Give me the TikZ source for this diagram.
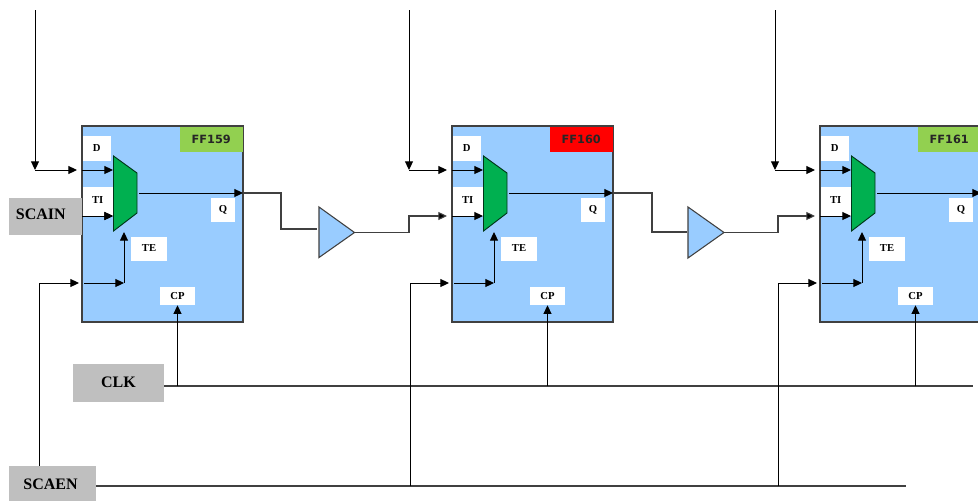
\documentclass[tikz,border=0pt]{standalone}
\usepackage{fontspec}
\setmainfont{Liberation Serif}
\newfontfamily\tagfont{DejaVu Sans}
\usetikzlibrary{arrows.meta,calc}
\definecolor{ffblue}{HTML}{99CCFF}
\definecolor{muxgreen}{HTML}{00B050}
\definecolor{taggreen}{HTML}{92D050}
\definecolor{sigegray}{HTML}{BFBFBF}
\definecolor{wiregray}{HTML}{404040}
\tikzset{
  wire/.style={line width=.75pt,black},
  bus/.style={line width=.8pt,wiregray},
  arr/.style={-{Triangle[length=6.5pt,width=6pt,fill=black]}},
  ffbox/.style={draw=wiregray,line width=1pt,fill=ffblue},
  pinlabel/.style={fill=white,font=\bfseries\fontsize{8}{9}\selectfont,inner sep=0pt},
  taglabel/.style={font=\tagfont\bfseries\fontsize{8.5}{10}\selectfont,inner sep=0pt,text=black!85},
  siglabel/.style={fill=sigegray,font=\bfseries\fontsize{12}{14}\selectfont,inner sep=0pt},
  mux/.style={draw=black!70!muxgreen,line width=.7pt,fill=muxgreen},
  buf/.style={draw=wiregray,line width=.8pt,fill=ffblue},
}
% name, x1, y1, x2, y2, style, text
\newcommand{\pxnode}[7]{%
  \pgfmathsetmacro{\pxw}{(#4-#2)*.75}\pgfmathsetmacro{\pxh}{(#5-#3)*.75}%
  \node[#6,minimum width=\pxw pt,minimum height=\pxh pt] (#1) at ({(#2+#4)/2},{(#3+#5)/2}) {#7};}
\newcommand{\flop}[4]{%
  \begin{scope}[shift={(#2,0)}]
    \pxnode{ff#1}{82}{126}{243}{322}{ffbox}{}
    \pxnode{tag#1}{179.5}{126.5}{243}{152}{fill=#3,taglabel}{#4}
    \pxnode{D#1}{82.5}{136}{111}{161}{pinlabel}{D}
    \pxnode{TI#1}{82.5}{187}{113}{216}{pinlabel}{\raisebox{2pt}{TI}}
    \pxnode{Q#1}{211}{198}{235}{222}{pinlabel}{\raisebox{.8pt}{Q}}
    \pxnode{TE#1}{131}{237}{167}{261}{pinlabel}{\raisebox{.8pt}{TE}}
    \pxnode{CP#1}{160}{287}{195}{305}{pinlabel}{CP}
    \draw[mux] (113.5,156) coordinate (muxa#1) -- (137,173) -- (137,213) -- (113.5,231) coordinate (muxb#1) -- cycle;
    \coordinate (din#1) at (82,170);
    \coordinate (tin#1) at (82,216);
    \coordinate (din#1m) at (113,170);
    \coordinate (tin#1m) at (113,216);
    \coordinate (te#1a) at (84,283);
    \coordinate (te#1b) at (124,283);
    \coordinate (te#1c) at (124,232);
    \coordinate (out#1a) at (139,193);
    \coordinate (out#1b) at (243,193);
    \coordinate (din#1e) at (77,170);
    \coordinate (tin#1e) at (77,216);
    \coordinate (te#1e) at (79,283);
    \draw[wire,arr] (din#1) -- (din#1m);
    \draw[wire,arr] (tin#1) -- (tin#1m);
    \draw[wire,arr] (te#1a) -- (te#1b);
    \draw[wire,arr] (te#1b) -- (te#1c);
    \draw[wire,arr] (out#1a) -- (out#1b);
  \end{scope}}
\begin{document}
\begin{tikzpicture}[x=.75pt,y=-.75pt]
\useasboundingbox (0,0) rectangle (978,500);
\clip (0,0) rectangle (978,500);

\flop{159}{0}{taggreen}{FF159}
\flop{160}{370}{red}{FF160}
\flop{161}{738}{taggreen}{FF161}

% side signal boxes
\pxnode{scain}{9}{198}{82}{235}{siglabel}{\raisebox{3pt}{SCAIN\kern 7pt}}
\pxnode{clk}{73}{364}{164}{402}{siglabel}{\raisebox{1.5pt}{CLK}}
\pxnode{scaen}{9}{466}{96}{504}{siglabel}{\raisebox{1pt}{SCAEN\kern 3pt}}

% re-draw the TI arrow over the SCAIN box edge
\draw[wire,arr] (tin159) -- (tin159m);

% buffers
\draw[buf] (319,207) coordinate (b1i) -- (354.5,232.5) coordinate (b1o) -- (319,257.5) -- cycle;
\draw[buf] (688,207) coordinate (b2i) -- (724,232.5) coordinate (b2o) -- (688,258) -- cycle;
\coordinate (b1in) at (317,229);
\coordinate (b2in) at (687,232);

% scan chain
\draw[bus] (out159b) -- (281,193) -- (281,229) -- (b1in);
\draw[bus] (out160b) -- (652,193) -- (652,232) -- (b2in);
\draw[bus,arr] (b1o) -- (409,232.5) -- (409,216) -- (tin160e);
\draw[bus,arr] (b2o) -- (778,232.5) -- (778,216) -- (tin161e);

% functional data inputs
\coordinate (top159) at (35,10);
\coordinate (top160) at (409,10);
\coordinate (top161) at (775,10);
\coordinate (dr159) at (35,170);
\coordinate (dr160) at (409,170);
\coordinate (dr161) at (775,170);
\draw[wire,arr] (top159) -- (dr159);
\draw[wire,arr] (top160) -- (dr160);
\draw[wire,arr] (top161) -- (dr161);
\draw[wire,arr] (dr159) -- (din159e);
\draw[wire,arr] (dr160) -- (din160e);
\draw[wire,arr] (dr161) -- (din161e);

% clock
\coordinate (clkend) at (973,386);
\draw[bus] (clk.east |- clkend) -- (clkend);
\draw[wire,arr] (CP159.south |- clkend) -- (CP159.south);
\draw[wire,arr] (CP160.south |- clkend) -- (CP160.south);
\draw[wire,arr] (CP161.south |- clkend) -- (CP161.south);

% scan enable
\coordinate (enend) at (906,486);
\draw[bus] (scaen.east |- enend) -- (enend);
\draw[wire,arr] (scaen.north -| 39,283) -- (39,283) -- (te159e);
\draw[wire,arr] (410,486) -- (410,283) -- (te160e);
\draw[wire,arr] (778,486) -- (778,283) -- (te161e);
\end{tikzpicture}
\end{document}
